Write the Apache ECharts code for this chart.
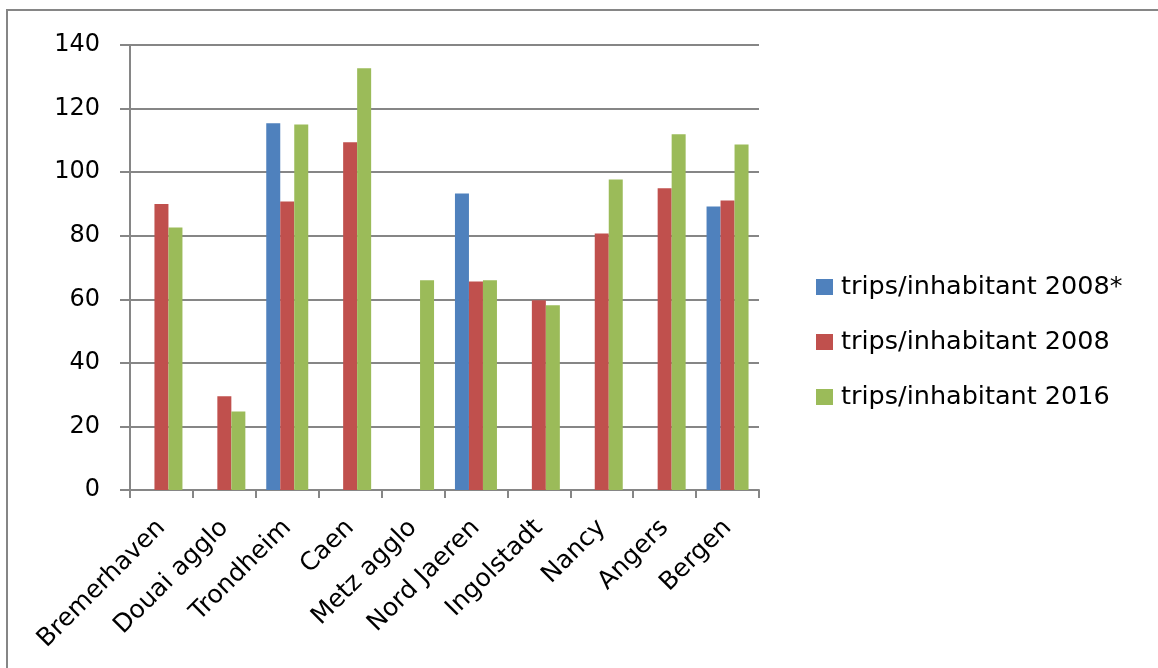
<!DOCTYPE html>
<html>
<head>
<meta charset="utf-8">
<script src="https://cdn.jsdelivr.net/npm/echarts@6/dist/echarts.min.js"></script>
<style>
html,body{margin:0;padding:0;background:#fff;}
#chart{width:1158px;height:668px;}
</style>
</head>
<body>
<div id="chart"></div>
<script>
const categories = ['Bremerhaven','Douai agglo','Trondheim','Caen','Metz agglo','Nord Jaeren','Ingolstadt','Nancy','Angers','Bergen'];
const seriesNames = ['trips/inhabitant 2008*','trips/inhabitant 2008','trips/inhabitant 2016'];
const trips2008star = [null, null, 115.4, null, null, 93.3, null, null, null, 89.2];
const trips2008 = [90, 29.5, 90.8, 109.4, null, 65.6, 59.7, 80.7, 94.9, 91.1];
const trips2016 = [82.6, 24.7, 115, 132.7, 66, 66, 58.1, 97.7, 111.9, 108.7];
const yTicks = {min: 0, max: 140, interval: 20};

const colors = ['#4F81BD', '#C0504D', '#9BBB59'];
const font = 'DejaVu Sans';
const chart = echarts.init(document.getElementById('chart'));
chart.setOption({
  animation: false,
  backgroundColor: '#fff',
  graphic: [{
    type: 'rect', silent: true,
    shape: {x: 7, y: 10, width: 2000, height: 2000},
    style: {fill: 'none', stroke: '#868686', lineWidth: 2}
  }],
  legend: {
    orient: 'vertical', left: 811, top: 269,
    itemWidth: 17, itemHeight: 16, itemGap: 29,
    icon: 'rect',
    textStyle: {fontFamily: font, fontSize: 25.5, color: '#000', padding: [0,0,0,3]},
    data: seriesNames
  },
  grid: {left: 130, right: 399, top: 45, bottom: 178, containLabel: false},
  xAxis: {
    type: 'category', data: categories,
    axisLine: {lineStyle: {color: '#868686', width: 2}},
    axisTick: {show: true, length: 8, lineStyle: {color: '#868686', width: 2}},
    axisLabel: {rotate: 45, margin: 34, fontFamily: font, fontSize: 25, color: '#000', interval: 0}
  },
  yAxis: {
    type: 'value', min: yTicks.min, max: yTicks.max, interval: yTicks.interval,
    axisLine: {show: true, lineStyle: {color: '#868686', width: 2}},
    axisTick: {show: true, length: 10, lineStyle: {color: '#868686', width: 2}},
    splitLine: {show: true, lineStyle: {color: '#868686', width: 2}},
    axisLabel: {margin: 30, fontFamily: font, fontSize: 24, color: '#000'}
  },
  series: [
    {name: seriesNames[0], type: 'bar', data: trips2008star, itemStyle: {color: colors[0]}, barGap: '0%', barWidth: 14},
    {name: seriesNames[1], type: 'bar', data: trips2008, itemStyle: {color: colors[1]}, barGap: '0%', barWidth: 14},
    {name: seriesNames[2], type: 'bar', data: trips2016, itemStyle: {color: colors[2]}, barGap: '0%', barWidth: 14}
  ]
});
</script>
</body>
</html>
